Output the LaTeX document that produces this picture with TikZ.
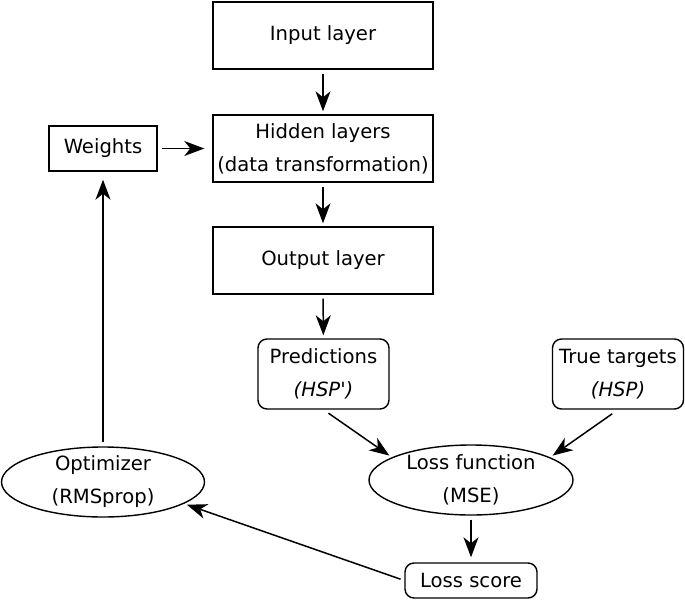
\documentclass[tikz,border=0pt]{standalone}
\usepackage{fontspec}
\setmainfont{DejaVu Sans}[Ligatures=TeXOff]
\usetikzlibrary{shapes.geometric,arrows.meta}

\tikzset{
	layer/.style={draw, line width=0.7pt, inner sep=1pt, align=center, minimum width=110pt, minimum height=33.5pt},
	target/.style={draw, line width=0.7pt, rounded corners=4.5pt, inner sep=1pt, align=center, minimum width=65.5pt, minimum height=35pt},
	oval/.style={draw, ellipse, line width=0.7pt, inner xsep=0pt, inner ysep=-2pt, align=center, minimum height=35pt},
	flow/.style={-{Stealth[length=10pt,width=7.5pt,inset=3pt]}, line width=0.75pt, shorten <=2pt, shorten >=1.5pt}
}

\begin{document}
\begin{tikzpicture}[x=0.5pt, y=-0.5pt, font=\fontsize{9.8}{16.5}\selectfont]
\useasboundingbox (0,0) rectangle (685,600);
\node[layer] (input) at (323,35.5) {Input layer};
\node[layer] (hidden) at (323,148.5) {Hidden layers\\(data transformation)};
\node[layer] (output) at (323,260.5) {Output layer};
\node[layer, minimum width=54pt, minimum height=22.5pt] (weights) at (103,148.5) {Weights};
\node[target] (pred) at (323.5,374) {Predictions\\\textit{(HSP')}};
\node[target] (truth) at (618,374) {True targets\\\textit{(HSP)}};
\node[oval, minimum width=102pt] (lossfn) at (471,480) {Loss function\\(MSE)};
\node[oval, minimum width=101.5pt] (optim) at (103,482) {Optimizer\\(RMSprop)};
\node[target, minimum width=66pt, minimum height=17.5pt] (score) at (471,580.5) {Loss score};
\draw[flow] (input) -- (hidden);
\draw[flow] (hidden) -- (output);
\draw[flow] (output) -- (pred);
\draw[flow, shorten >=4pt] (weights) -- (hidden);
\draw[flow, shorten >=4pt] (optim) -- (weights);
\draw[flow, shorten <=3pt] (pred.south) -- (lossfn.164);
\draw[flow, shorten <=3.5pt] (truth.south) -- (lossfn.16);
\draw[flow, shorten >=2.5pt] (lossfn) -- (score);
\draw[flow] (score.west) -- (optim.-15);
\end{tikzpicture}
\end{document}
